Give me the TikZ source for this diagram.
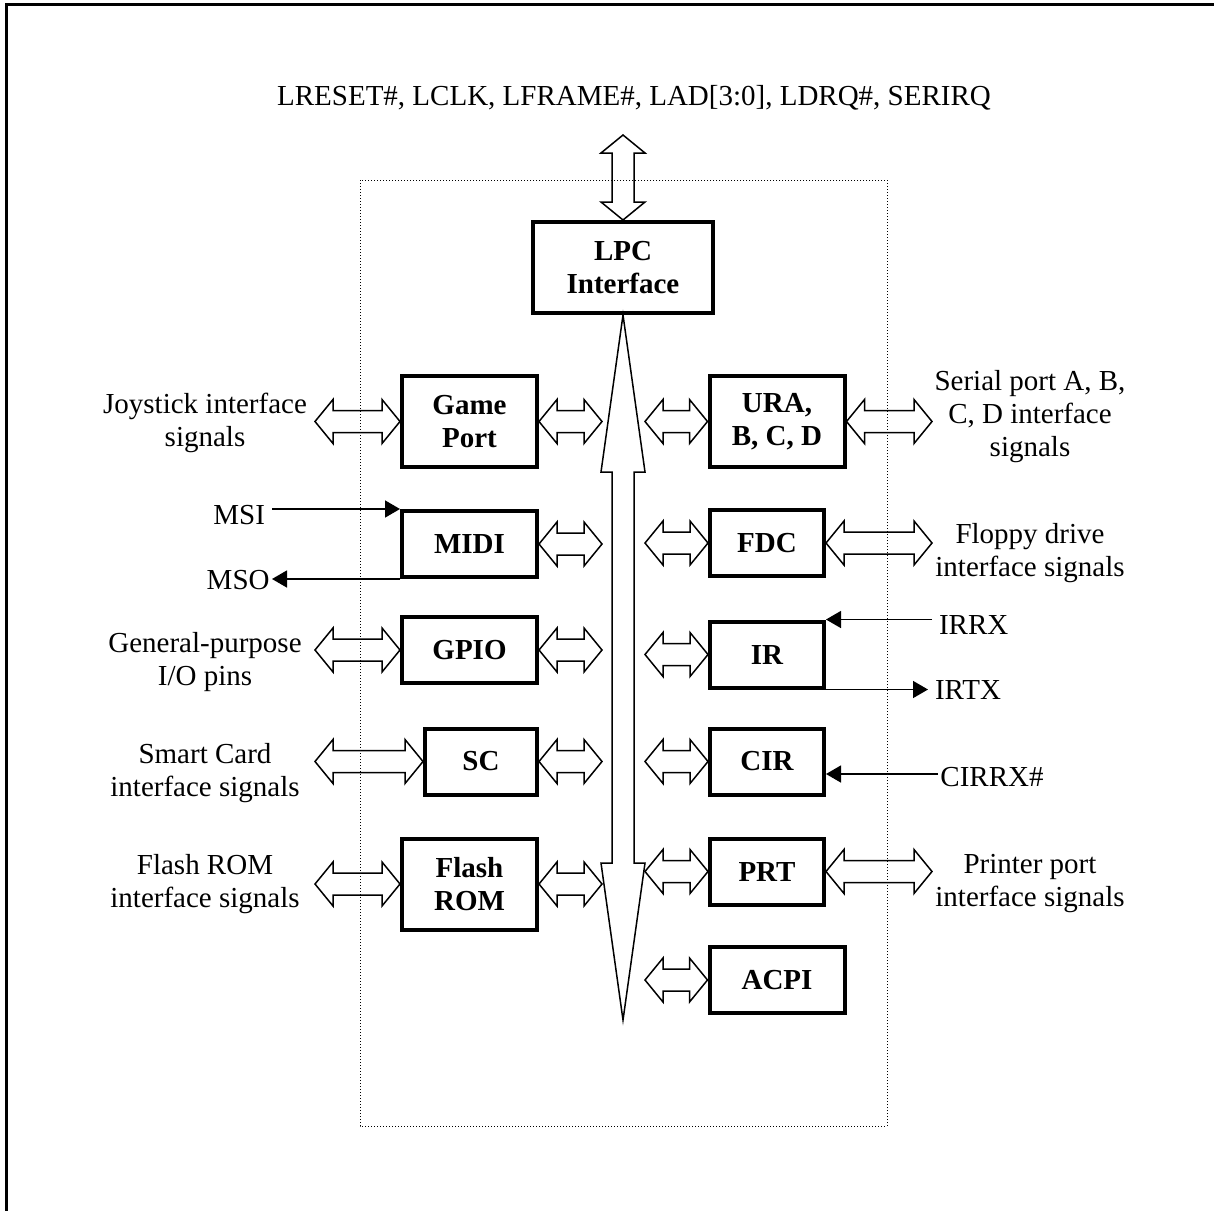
\documentclass[tikz,border=0pt]{standalone}
\usepackage{fontspec}
\setmainfont{Liberation Serif}
\usetikzlibrary{arrows.meta, positioning, calc}

\tikzset{
  blk/.style={draw, line width=2pt, align=center, inner sep=0pt,
    font=\fontsize{14.5}{16.5}\selectfont\bfseries},
  wide/.style={minimum width=67.5pt},
  narrow/.style={minimum width=57pt},
  tall/.style={minimum height=45.5pt},
  short/.style={minimum height=33pt},
  sig/.style={align=center, font=\fontsize{14.5}{16.5}\selectfont},
  hollow/.style={line width=0.75pt, line join=miter},
  wire/.style={line width=0.75pt, -{Triangle[length=7.5pt,width=8.5pt]}},
}

% hollow two-headed arrow from #1 to #2, head length #3
\newcommand{\biarrow}[3]{%
  \draw[hollow] (#1)
    -- ($(#1)!#3!(#2)!11pt!90:(#2)$)
    -- ($(#1)!#3!(#2)!5.5pt!90:(#2)$)
    -- ($(#2)!#3!(#1)!5.5pt!-90:(#1)$)
    -- ($(#2)!#3!(#1)!11pt!-90:(#1)$)
    -- (#2)
    -- ($(#2)!#3!(#1)!11pt!90:(#1)$)
    -- ($(#2)!#3!(#1)!5.5pt!90:(#1)$)
    -- ($(#1)!#3!(#2)!5.5pt!-90:(#2)$)
    -- ($(#1)!#3!(#2)!11pt!-90:(#2)$)
    -- cycle;}

\begin{document}
\begin{tikzpicture}[x=0.5pt,y=-0.5pt]
  \path[use as bounding box] (0,0) rectangle (1214,1210);
  \draw[line width=1.5pt] (6,1212) -- (6,4) -- (1216,4);
  \draw[densely dotted, line width=0.5pt] (360,180) rectangle (887,1126);

  \node[sig] (lpcsig) at (634,98) {LRESET\#, LCLK, LFRAME\#, LAD[3:0], LDRQ\#, SERIRQ};

  % blocks
  \node[blk, minimum width=90pt, tall] (lpc) at (623,267.5) {LPC\\Interface};
  \node[blk, wide, tall] (gp) at (469.5,421.5) {Game\\Port};
  \node[blk, wide, short] (mid) at (469.5,544) {MIDI};
  \node[blk, wide, short] (gpio) at (469.5,650) {GPIO};
  \node[blk, minimum width=56pt, short] (sc) at (481,761.5) {SC};
  \node[blk, wide, tall] (flash) at (469.5,884) {Flash\\ROM};
  \node[blk, wide, tall] (ura) at (777,421.5) {URA,\\B, C, D};
  \node[blk, narrow, short] (fdc) at (767,543) {FDC};
  \node[blk, narrow, short] (ir) at (767,654.5) {IR};
  \node[blk, narrow, short] (cir) at (767,761.5) {CIR};
  \node[blk, narrow, short] (prt) at (767,871.5) {PRT};
  \node[blk, wide, short] (acpi) at (777,980) {ACPI};

  % signal labels
  \node[sig] (joy) at (205,423) {Joystick interface\\signals};
  \node[sig] (ser) at (1030,417) {Serial port A, B,\\C, D interface\\signals};
  \node[sig] (fdsig) at (1030,553) {Floppy drive\\interface signals};
  \node[sig] (gpsig) at (205,662) {General-purpose\\I/O pins};
  \node[sig] (scsig) at (205,773) {Smart Card\\interface signals};
  \node[sig] (flsig) at (205,884) {Flash ROM\\interface signals};
  \node[sig] (prsig) at (1030,884) {Printer port\\interface signals};
  \node[sig, anchor=east] (msi) at (272,515) {MSI};
  \node[sig, anchor=east, inner sep=1pt] (mso) at (272,580) {MSO};
  \node[sig, anchor=west] (irrx) at (932,625) {IRRX};
  \node[sig, anchor=west] (irtx) at (928,690) {IRTX};
  \node[sig, anchor=west, inner sep=1pt] (cirrx) at (938,777) {CIRRX\#};

  % free ends
  \coordinate (lpctop) at (623,135);
  \coordinate (busend) at (623,1020);
  \coordinate (busL) at (602,0);
  \coordinate (busR) at (645,0);
  \coordinate (edgeL) at (315,0);
  \coordinate (edgeR) at (932,0);

  % buses
  \biarrow{lpctop}{lpc.north}{9pt}
  \biarrow{lpc.south}{busend}{78.5pt}
  \foreach \b in {gp,mid,gpio,sc,flash}{
    \biarrow{\b.east}{\b.east -| busL}{9pt}
  }
  \foreach \b in {ura,fdc,ir,cir,prt,acpi}{
    \biarrow{\b.west -| busR}{\b.west}{9pt}
  }
  \foreach \b in {gp,gpio,sc,flash}{
    \biarrow{\b.west -| edgeL}{\b.west}{9pt}
  }
  \foreach \b in {ura,fdc,prt}{
    \biarrow{\b.east}{\b.east -| edgeR}{9pt}
  }

  % single wires
  \draw[wire] (msi.east |- mid.north west) -- (mid.north west);
  \draw[wire] (mid.south west) -- (mso.east |- mid.south west);
  \draw[wire] (irrx.west |- ir.north east) -- (ir.north east);
  \draw[wire] (ir.south east) -- (irtx.west |- ir.south east);
  \draw[wire] (cirrx.west |- 0,774) -- (cir.east |- 0,774);
\end{tikzpicture}
\end{document}
